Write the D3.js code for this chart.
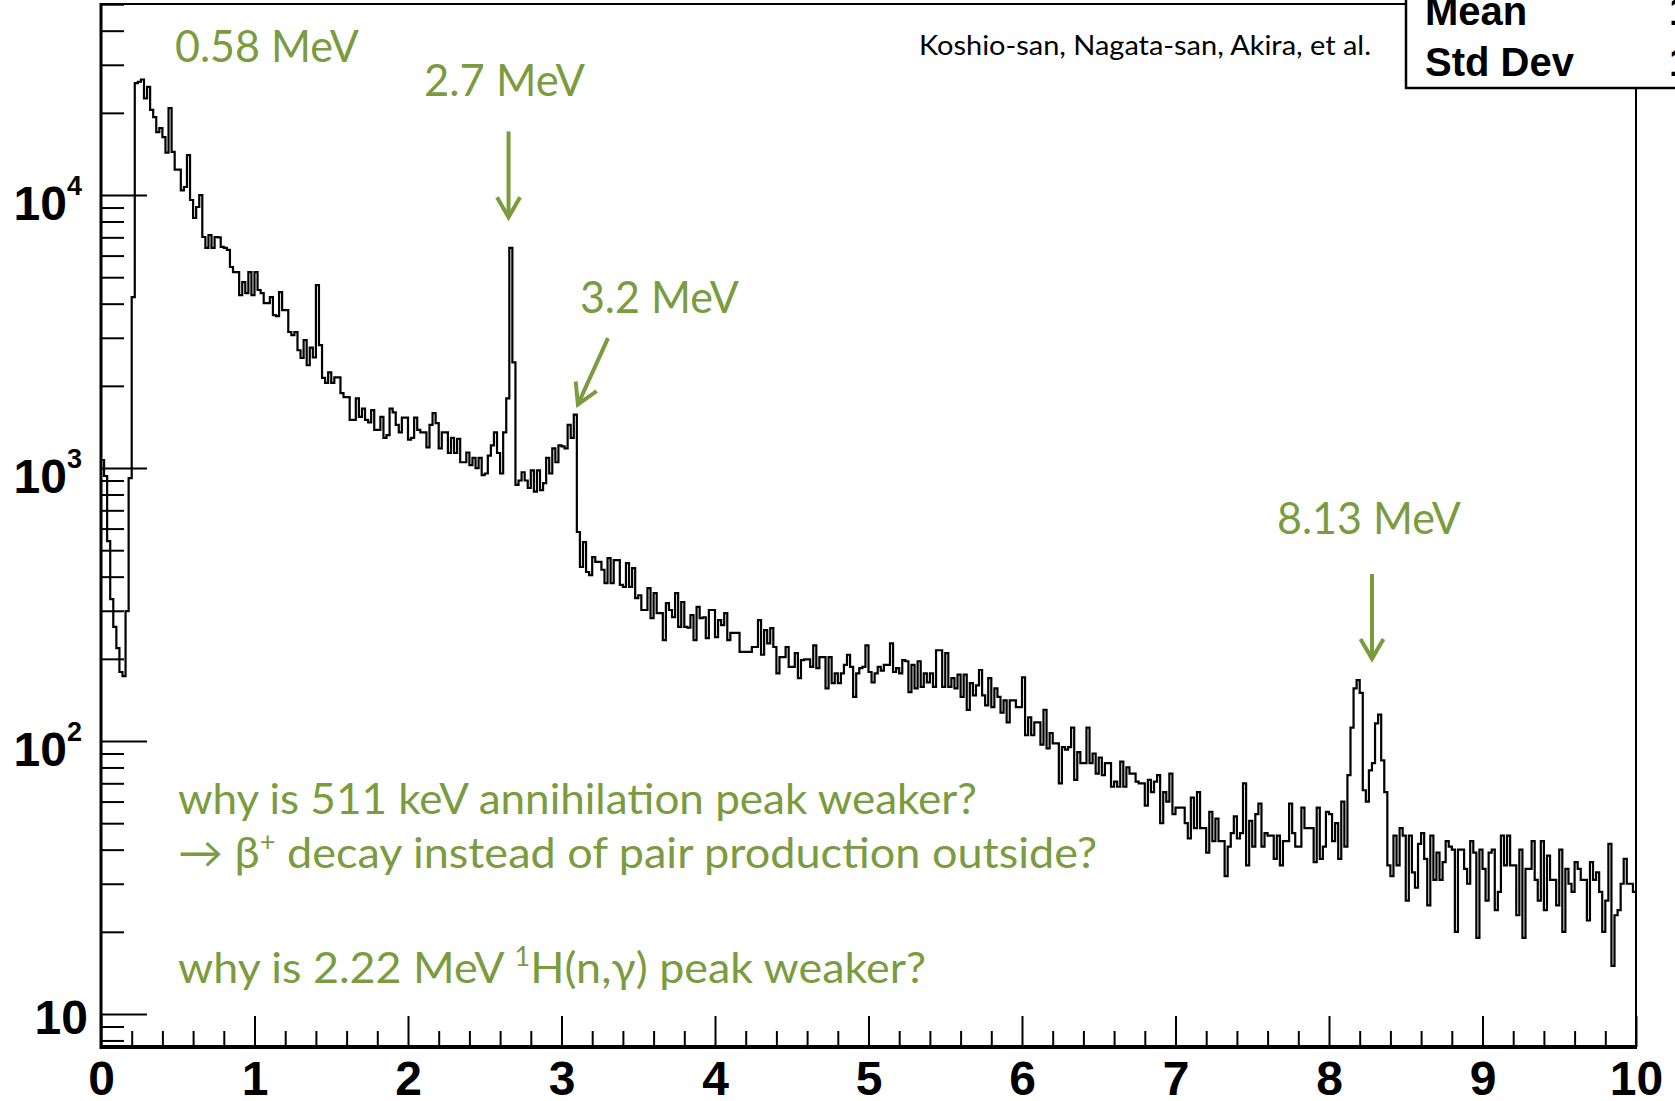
<!DOCTYPE html>
<html>
<head>
<meta charset="utf-8">
<script src="https://cdn.jsdelivr.net/npm/d3@7"></script>
<style>
  html, body { margin: 0; padding: 0; background: #fff; }
  svg { display: block; }
</style>
</head>
<body>
<svg id="chart" width="1675" height="1101"></svg>
<script>
// energy spectrum: 500 bins of 0.02 MeV from 0 to 10 MeV
const binStart = 0;
const binWidth = 0.02;
const counts = [
  1070, 935, 540, 331, 262, 219, 179, 173, 299, 919, 4230, 25700, 26000, 26500, 22600, 24900, 20500, 19300, 17000, 17600,
  16300, 14300, 20800, 14400, 12400, 12400, 10400, 10700, 14000, 9590, 8240, 9040, 10000, 7020, 6400, 7140, 6400, 7020, 7000, 6460,
  6400, 6300, 5450, 5220, 5220, 4300, 4800, 4370, 5220, 4300, 5220, 4490, 4370, 4020, 4020, 4230, 3630, 3600, 4410, 3790,
  3790, 3150, 3070, 3150, 2700, 2530, 2940, 2380, 2760, 2540, 4680, 2820, 2140, 2050, 2240, 2050, 2150, 2150, 1880, 1820,
  1820, 1500, 1500, 1800, 1540, 1650, 1500, 1470, 1630, 1380, 1380, 1540, 1290, 1320, 1650, 1600, 1440, 1350, 1530, 1530,
  1270, 1290, 1530, 1380, 1350, 1350, 1190, 1440, 1590, 1460, 1180, 1350, 1350, 1135, 1290, 1135, 1280, 1050, 1050, 1140,
  1025, 1090, 1000, 1090, 942, 955, 1110, 1210, 1350, 1135, 955, 1350, 1800, 6400, 2440, 867, 900, 965, 900, 845,
  980, 820, 980, 830, 880, 1090, 955, 1180, 1050, 1210, 1200, 1180, 1440, 1290, 1570, 583, 434, 535, 416, 405,
  472, 453, 453, 424, 379, 468, 379, 460, 460, 373, 367, 448, 367, 430, 334, 342, 302, 302, 363, 282,
  348, 294, 294, 234, 320, 302, 284, 348, 262, 323, 262, 260, 289, 234, 310, 282, 284, 238, 302, 302,
  240, 277, 266, 294, 234, 249, 249, 249, 212, 212, 212, 212, 221, 221, 277, 207, 255, 228, 259, 221,
  177, 203, 203, 221, 187, 187, 210, 170, 198, 199, 199, 187, 224, 185, 203, 203, 156, 203, 163, 177,
  163, 177, 190, 207, 187, 145, 177, 185, 187, 224, 179, 164, 177, 187, 181, 190, 190, 228, 179, 185,
  177, 198, 196, 151, 190, 156, 196, 158, 177, 164, 177, 158, 215, 215, 158, 210, 158, 170, 156, 175,
  145, 175, 130, 163, 147, 160, 182, 147, 135, 170, 133, 156, 145, 127, 141, 117, 141, 141, 133, 133,
  171, 105, 122, 105, 117, 117, 97, 130, 94, 107, 98, 98, 70, 95, 93, 95, 112, 72, 91, 83,
  83, 112, 83, 90, 76, 87, 75, 83, 83, 68, 71, 68, 84, 68, 80, 76, 76, 71, 70, 70,
  58, 72, 65, 71, 75, 50, 65, 60, 76, 54, 57, 57, 57, 50, 44, 62, 48, 65, 48, 48,
  39, 55, 43, 52, 43, 43, 32, 41, 46, 53, 44, 46, 70, 35, 51, 41, 54, 59, 41, 46,
  45, 45, 37, 45, 35, 43, 43, 59, 46, 41, 41, 57, 48, 48, 48, 36, 57, 37, 41, 55,
  54, 43, 50, 37, 60, 41, 75, 112, 156, 167, 150, 66, 60, 78, 83, 116, 125, 85, 65, 35,
  32, 45, 35, 48, 45, 26, 45, 33, 29, 42, 46, 37, 25, 45, 31, 39, 31, 36, 43, 41,
  40, 20, 40, 40, 34, 30, 43, 39, 19, 40, 34, 26, 39, 40, 24, 28, 45, 35, 45, 35,
  35, 23, 40, 19, 34, 34, 43, 31, 26, 43, 24, 38, 31, 31, 25, 40, 20, 34, 30, 28,
  36, 34, 31, 31, 22, 36, 31, 33, 28, 20, 26, 42, 15, 23, 24, 30, 37, 30, 30, 28
];

const xTicks = [0, 1, 2, 3, 4, 5, 6, 7, 8, 9, 10];
const yMajor = [10, 100, 1000, 10000];
const yExponent = ['', '2', '3', '4'];
const statNames = ['Mean', 'Std Dev'];

// peak annotations: label anchor and arrow in (MeV, counts)
const peakNotes = [
  {text: '0.58 MeV', e: 0.482, c: 30700},
  {text: '2.7 MeV', e: 2.104, c: 23100, from: [2.655, 17100], to: [2.655, 8300]},
  {text: '3.2 MeV', e: 3.120, c: 3700, from: [3.303, 2990], to: [3.107, 1710]},
  {text: '8.13 MeV', e: 7.661, c: 573, from: [8.28, 409], to: [8.28, 200]}
];

const green = '#7b9b3f';
const gill = 'Lato, "Open Sans", sans-serif';
const helv = '"Liberation Sans", Arial, sans-serif';

const svg = d3.select('#chart');
svg.append('rect').attr('width', 1675).attr('height', 1101).attr('fill', '#fff');

const plotL = 101, plotR = 1636, plotT = 4, plotB = 1047;
const x = d3.scaleLinear().domain([0, 10]).range([plotL, plotR]);
const y = d3.scaleLog().domain([7.57, 50100]).range([plotB, plotT]);

// minor tick values
const xMinor = d3.range(0, 10.001, 0.2).filter(v => Math.abs(v - Math.round(v)) > 1e-6);
const yMinor = [];
[1, 10, 100, 1000, 10000].forEach(dec => {
  for (let k = 2; k <= 9; k++) {
    const v = k * dec;
    if (v >= y.domain()[0] && v <= y.domain()[1]) yMinor.push(v);
  }
});

svg.append('clipPath').attr('id', 'plotClip')
  .append('rect').attr('x', plotL).attr('y', plotT).attr('width', plotR - plotL).attr('height', plotB - plotT);

// histogram as a step line
const pts = counts.map((c, i) => [binStart + i * binWidth, c]);
pts.push([binStart + counts.length * binWidth, counts[counts.length - 1]]);

const step = d3.line()
  .x(d => x(d[0]))
  .y(d => y(d[1]))
  .curve(d3.curveStepAfter);

svg.append('path')
  .datum(pts)
  .attr('clip-path', 'url(#plotClip)')
  .attr('d', step)
  .attr('fill', 'none')
  .attr('stroke', '#000')
  .attr('stroke-width', 2.2);

// axes: ticks point into the frame
const gx = svg.append('g').attr('transform', `translate(0,${plotB})`)
  .call(d3.axisBottom(x).tickValues(xTicks).tickSizeInner(-31).tickSizeOuter(0).tickPadding(14).tickFormat(d3.format('d')));
gx.select('.domain').remove();
gx.selectAll('line').attr('stroke', '#000').attr('stroke-width', 2);
gx.selectAll('text')
  .attr('font-family', helv).attr('font-weight', 'bold').attr('font-size', 48).attr('fill', '#000');

const gxm = svg.append('g').attr('transform', `translate(0,${plotB})`)
  .call(d3.axisBottom(x).tickValues(xMinor).tickSizeInner(-16).tickSizeOuter(0).tickFormat(''));
gxm.select('.domain').remove();
gxm.selectAll('line').attr('stroke', '#000').attr('stroke-width', 2);

const gy = svg.append('g').attr('transform', `translate(${plotL},0)`)
  .call(d3.axisLeft(y).tickValues(yMajor).tickSizeInner(-46).tickSizeOuter(0).tickFormat(''));
gy.select('.domain').remove();
gy.selectAll('line').attr('stroke', '#000').attr('stroke-width', 2);

const gym = svg.append('g').attr('transform', `translate(${plotL},0)`)
  .call(d3.axisLeft(y).tickValues(yMinor).tickSizeInner(-23).tickSizeOuter(0).tickFormat(''));
gym.select('.domain').remove();
gym.selectAll('line').attr('stroke', '#000').attr('stroke-width', 2);

// y labels 10, 10^2, 10^3, 10^4
yMajor.forEach((v, i) => {
  const t = svg.append('text')
    .attr('x', yExponent[i] ? 82 : 88)
    .attr('y', y(v) + (yExponent[i] ? 25 : 20))
    .attr('text-anchor', 'end')
    .attr('font-family', helv).attr('font-weight', 'bold').attr('font-size', 48);
  t.append('tspan').text('10');
  if (yExponent[i]) {
    t.append('tspan').attr('dy', -25).attr('font-size', 27).text(yExponent[i]);
  }
});

// frame
svg.append('line').attr('x1', plotL).attr('x2', plotR).attr('y1', plotT).attr('y2', plotT)
  .attr('stroke', '#000').attr('stroke-width', 2);
svg.append('line').attr('x1', plotR).attr('x2', plotR).attr('y1', plotT).attr('y2', plotB)
  .attr('stroke', '#000').attr('stroke-width', 2);
svg.append('line').attr('x1', plotL).attr('x2', plotL).attr('y1', plotT - 1).attr('y2', plotB + 2)
  .attr('stroke', '#000').attr('stroke-width', 3);
svg.append('line').attr('x1', plotL - 1).attr('x2', plotR + 1).attr('y1', plotB).attr('y2', plotB)
  .attr('stroke', '#000').attr('stroke-width', 4);

// stats box (cut off at the page edge)
svg.append('rect').attr('x', 1406).attr('y', -10).attr('width', 300).attr('height', 98)
  .attr('fill', '#fff').attr('stroke', '#000').attr('stroke-width', 2.5);
statNames.forEach((name, i) => {
  svg.append('text').attr('x', 1425).attr('y', 25 + i * 51)
    .attr('font-family', helv).attr('font-weight', 'bold').attr('font-size', 40).text(name);
  svg.append('text').attr('x', 1669).attr('y', 25 + i * 51)
    .attr('font-family', helv).attr('font-weight', 'bold').attr('font-size', 40).text('1');
});

svg.append('text').attr('x', 919).attr('y', 55)
  .attr('font-family', gill).attr('font-size', 26)
  .attr('textLength', 452).attr('lengthAdjust', 'spacingAndGlyphs')
  .text('Koshio-san, Nagata-san, Akira, et al.');

// peak labels and arrows
const labelWidth = {'0.58 MeV': 184, '2.7 MeV': 161, '3.2 MeV': 159, '8.13 MeV': 184};
peakNotes.forEach(n => {
  svg.append('text').attr('x', x(n.e)).attr('y', y(n.c))
    .attr('font-family', gill).attr('font-size', 45).attr('fill', green)
    .attr('textLength', labelWidth[n.text]).attr('lengthAdjust', 'spacingAndGlyphs')
    .text(n.text);
  if (!n.from) return;
  const x1 = x(n.from[0]), y1 = y(n.from[1]), x2 = x(n.to[0]), y2 = y(n.to[1]);
  const a = Math.atan2(y2 - y1, x2 - x1);
  const arm = 23, spread = Math.PI / 6;
  const head = [
    [x2 + arm * Math.cos(a + Math.PI - spread), y2 + arm * Math.sin(a + Math.PI - spread)],
    [x2, y2],
    [x2 + arm * Math.cos(a + Math.PI + spread), y2 + arm * Math.sin(a + Math.PI + spread)]
  ];
  svg.append('line').attr('x1', x1).attr('y1', y1).attr('x2', x2).attr('y2', y2)
    .attr('stroke', green).attr('stroke-width', 4);
  svg.append('path').attr('d', d3.line()(head))
    .attr('fill', 'none').attr('stroke', green).attr('stroke-width', 4)
    .attr('stroke-linejoin', 'miter');
});

// questions at the bottom left
svg.append('text').attr('x', x(0.502)).attr('y', y(54))
  .attr('font-family', gill).attr('font-size', 43).attr('fill', green)
  .attr('textLength', 799).attr('lengthAdjust', 'spacingAndGlyphs')
  .text('why is 511 keV annihilation peak weaker?');

const q2 = svg.append('text').attr('x', x(0.502)).attr('y', y(34.3))
  .attr('font-family', gill).attr('font-size', 43).attr('fill', green)
  .attr('textLength', 919).attr('lengthAdjust', 'spacingAndGlyphs');
q2.append('tspan').text('\u2192 \u03b2');
q2.append('tspan').attr('dy', -17).attr('font-size', 26).text('+');
q2.append('tspan').attr('dy', 17).text(' decay instead of pair production outside?');

const q3 = svg.append('text').attr('x', x(0.502)).attr('y', y(13))
  .attr('font-family', gill).attr('font-size', 43).attr('fill', green)
  .attr('textLength', 748).attr('lengthAdjust', 'spacingAndGlyphs');
q3.append('tspan').text('why is 2.22 MeV ');
q3.append('tspan').attr('dy', -17).attr('font-size', 26).text('1');
q3.append('tspan').attr('dy', 17).text('H(n,\u03b3) peak weaker?');
</script>
</body>
</html>
